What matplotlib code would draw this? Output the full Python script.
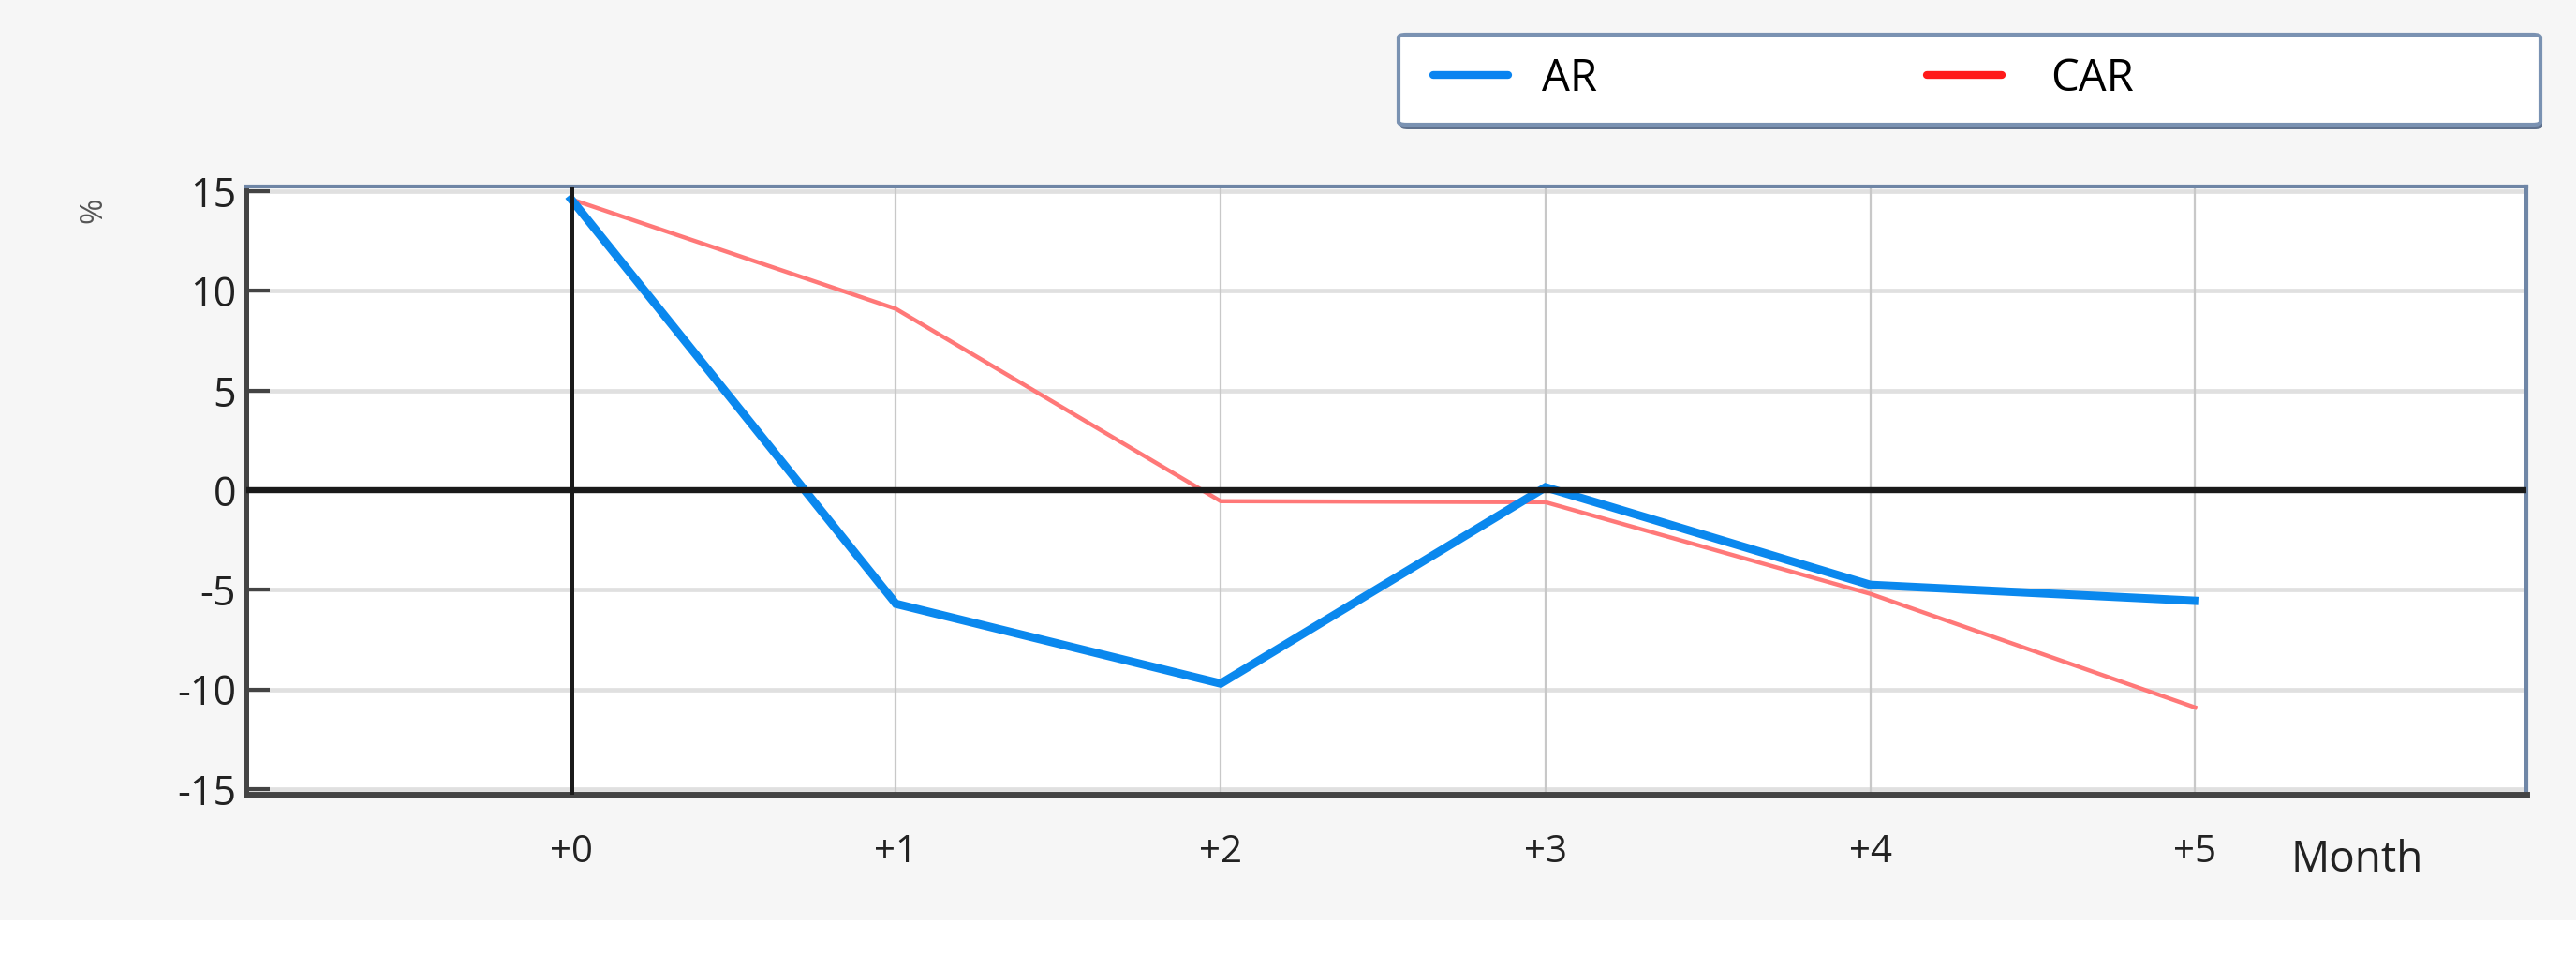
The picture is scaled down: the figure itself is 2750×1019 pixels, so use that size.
import matplotlib
matplotlib.use("Agg")
import matplotlib.pyplot as plt
from matplotlib.lines import Line2D
from matplotlib.patches import FancyBboxPatch, Rectangle

plt.rcParams['font.family'] = ['Open Sans', 'DejaVu Sans']

months = [0, 1, 2, 3, 4, 5]
month_labels = ['+0', '+1', '+2', '+3', '+4', '+5']
ar_values = [14.6, -5.7, -9.7, 0.15, -4.75, -5.55]
car_values = [14.6, 9.1, -0.55, -0.6, -5.2, -10.9]
y_ticks = [-15, -10, -5, 0, 5, 10, 15]
series_names = ['AR', 'CAR']

W, H = 2750, 1019
fig = plt.figure(figsize=(W / 100, H / 100), dpi=100)
fig.patch.set_facecolor('#f6f6f6')
fig.add_artist(Rectangle((0, 0), 1, 1 - 982 / H, transform=fig.transFigure,
                         facecolor='white', edgecolor='none', zorder=0))

def fx(px):
    return px / W

def fy(py):
    return 1 - py / H

ax = fig.add_axes([fx(263), fy(848), fx(2697) - fx(263), fy(199) - fy(848)])
ax.set_facecolor('white')
ax.set_xlim(-1, 6.02)
ax.set_ylim(-15.28, 15.24)

# grid
for yv in y_ticks:
    if yv != 0:
        ax.axhline(yv, color='#e0e0e0', lw=3.4, zorder=1)
for xv in months:
    if xv != 0:
        ax.axvline(xv, color='#c8c8c8', lw=1.6, zorder=1)

ax.plot(months, car_values, color='#ff7878', lw=3.2, zorder=2, solid_joinstyle='miter')
ax.plot(months, ar_values, color='#0a88ee', lw=6.4, zorder=2.5, solid_joinstyle='miter')

ax.axhline(0, color='#1a1a1a', lw=4.6, zorder=3)
ax.axvline(0, color='#1a1a1a', lw=3.6, zorder=3)

ax.set_yticks(y_ticks)
ax.set_yticklabels([str(v) for v in y_ticks])
ax.set_xticks(months)
ax.set_xticklabels(month_labels)
ax.tick_params(axis='y', direction='in', length=18, width=3, color='#444444',
               labelsize=31, pad=8, labelcolor='#222222')
ax.tick_params(axis='x', length=0, labelsize=29, pad=30, labelcolor='#222222')

for side in ['left', 'bottom']:
    ax.spines[side].set_color('#444444')
ax.spines['left'].set_linewidth(3.6)
ax.spines['bottom'].set_linewidth(5.0)
for side in ['top', 'right']:
    ax.spines[side].set_color('#6f86a6')
    ax.spines[side].set_linewidth(3.0)

fig.text(fx(2446), fy(918), 'Month', fontsize=33, va='center', ha='left', color='#222222')
fig.text(fx(100), fy(224), '%', fontsize=24, rotation=90, va='center', ha='center',
         color='#555555')

# legend frame
x0, y0, x1, y1 = 1493, 37, 2712, 133
shadow = FancyBboxPatch((fx(x0 + 2), fy(y1 + 5)), fx(x1 - x0), fy(y0) - fy(y1),
                        boxstyle='round,pad=0,rounding_size=0.003', transform=fig.transFigure,
                        facecolor='#4f6382', edgecolor='none', alpha=0.9, zorder=4)
frame = FancyBboxPatch((fx(x0), fy(y1)), fx(x1 - x0), fy(y0) - fy(y1),
                       boxstyle='round,pad=0,rounding_size=0.003', transform=fig.transFigure,
                       facecolor='white', edgecolor='#7a92b2', lw=3, zorder=5)
fig.add_artist(shadow)
fig.add_artist(frame)

h_ar = Line2D([], [], color='#0a84f0', lw=6, solid_capstyle='round')
h_car = Line2D([], [], color='#ff1a1a', lw=6, solid_capstyle='round')
leg1 = fig.legend([h_ar], [series_names[0]], loc='center left',
                  bbox_to_anchor=(fx(1530), fy(84)), frameon=False, fontsize=34,
                  handlelength=1.7, handletextpad=0.75, borderpad=0, borderaxespad=0)
leg2 = fig.legend([h_car], [series_names[1]], loc='center left',
                  bbox_to_anchor=(fx(2057), fy(84)), frameon=False, fontsize=34,
                  handlelength=1.7, handletextpad=1.1, borderpad=0, borderaxespad=0)
leg1.set_zorder(6)
leg2.set_zorder(6)

fig.savefig('out.png', dpi=100, facecolor=fig.get_facecolor())
